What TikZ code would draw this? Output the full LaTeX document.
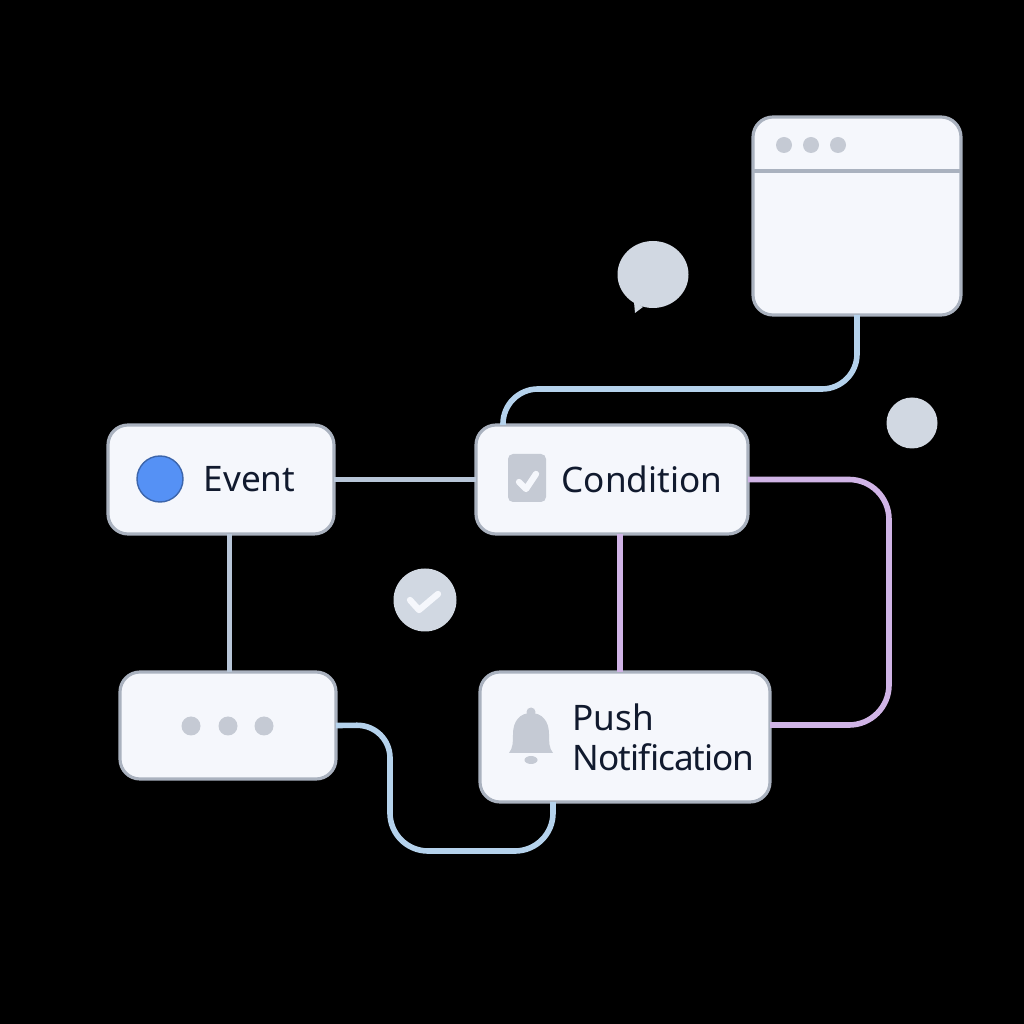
\documentclass[tikz,border=0pt]{standalone}
\usepackage{fontspec}
\setmainfont{Noto Sans}
\usetikzlibrary{shapes.geometric}
\definecolor{cardfill}{HTML}{F5F7FC}
\definecolor{cardline}{HTML}{AAB2BF}
\definecolor{iconfill}{HTML}{C5CAD4}
\definecolor{softfill}{HTML}{D1D8E2}
\definecolor{labelink}{HTML}{111A2E}
\definecolor{linkgrey}{HTML}{B8C6D8}
\definecolor{linkblue}{HTML}{B5D2EC}
\definecolor{linkpurple}{HTML}{D0B4E6}
\definecolor{eventblue}{HTML}{5591F5}
\tikzset{
	card/.style={draw=cardline, fill=cardfill, line width=0.9pt, rounded corners=0.2cm, outer sep=0pt},
	cardlabel/.style={text=labelink, inner sep=0pt, anchor=base west, font=\fontsize{10}{11.4}\selectfont},
	icondot/.style={circle, fill=iconfill, inner sep=0pt, minimum size=#1},
	softdot/.style={circle, fill=softfill, inner sep=0pt, minimum size=#1},
	link/.style={line width=1.6pt, draw=#1},
}
\def\tickmark(#1)(#2)(#3){\draw[cardfill, line width=1.8pt, line cap=round, line join=round] (#1) -- (#2) -- (#3);}

\begin{document}
\begin{tikzpicture}
		%%%%% START %%%%%
		\fill[black] (0, 0) rectangle (10.24, 10.24);
		
		\node[card, minimum width=2.26cm, minimum height=1.09cm] (event) at (2.21, 5.445) {};
		\node[card, minimum width=2.72cm, minimum height=1.09cm] (condition) at (6.12, 5.445) {};
		\node[card, minimum width=2.90cm, minimum height=1.30cm] (push) at (6.25, 2.87) {};
		\node[card, minimum width=2.16cm, minimum height=1.07cm] (more) at (2.28, 2.985) {};
		\node[card, minimum width=2.08cm, minimum height=1.98cm] (window) at (8.57, 8.08) {};
		
		\draw[cardline, line width=0.9pt] (window.west |- 0, 8.53) -- (window.east |- 0, 8.53);
		\node[icondot=0.16cm] (windowa) at (7.84, 8.79) {};
		\node[icondot=0.16cm] (windowb) at (8.11, 8.79) {};
		\node[icondot=0.16cm] (windowc) at (8.38, 8.79) {};
		
		\node[icondot=0.19cm] (morea) at (1.91, 2.98) {};
		\node[icondot=0.19cm] (moreb) at (2.28, 2.98) {};
		\node[icondot=0.19cm] (morec) at (2.64, 2.98) {};
		
		% the floating shapes
		\node[ellipse, fill=softfill, inner sep=0pt, minimum width=0.71cm, minimum height=0.67cm] (bubble) at (6.53, 7.495) {};
		\fill[softfill] (6.34, 7.22) -- (6.35, 7.11) -- (6.43, 7.17) -- cycle;
		\node[softdot=0.51cm] (spot) at (9.12, 6.01) {};
		\node[softdot=0.63cm] (tick) at (4.25, 4.24) {};
		\tickmark(4.10, 4.24)(4.19, 4.14)(4.38, 4.30);
		
		% icons inside the cards
		\node[circle, draw=eventblue!70!black, fill=eventblue, line width=0.4pt, inner sep=0pt, minimum size=0.46cm] (eventdot) at (1.60, 5.45) {};
		\node[rectangle, rounded corners=0.05cm, fill=iconfill, inner sep=0pt, minimum width=0.38cm, minimum height=0.48cm] (box) at (5.27, 5.46) {};
		\tickmark(5.19, 5.42)(5.26, 5.35)(5.36, 5.50);
		
		\fill[iconfill] (5.09, 2.71) .. controls (5.13, 2.76) and (5.13, 2.82) .. (5.13, 2.90) .. controls (5.13, 3.03) and (5.20, 3.11) .. (5.31, 3.11) .. controls (5.42, 3.11) and (5.49, 3.03) .. (5.49, 2.90) .. controls (5.49, 2.82) and (5.49, 2.76) .. (5.53, 2.71) -- cycle;
		\fill[iconfill] (5.31, 3.12) circle (0.045);
		\fill[iconfill] (5.31, 2.64) ellipse (0.065 and 0.04);
		
		\node[cardlabel] (eventtext) at (2.03, 5.32) {Event};
		\node[cardlabel] (conditiontext) at (5.61, 5.31) {Condition};
		\node[cardlabel, anchor=west, align=left] (pushtext) at (5.72, 2.87) {Push\\{\addfontfeatures{LetterSpace=-3}Notification}};
		
		% connectors
		\draw[link=linkgrey] (event.east) -- (condition.west);
		\draw[link=linkgrey] ([xshift=0.015cm]event.south -| more.north) -- ([xshift=0.015cm]more.north);
		\draw[link=linkpurple] ([xshift=0.08cm]condition.south) -- ([xshift=0.08cm]condition.south |- push.north);
		\draw[link=linkpurple, rounded corners=0.4cm] (condition.east) -- (8.89, 5.445) -- (8.89, 2.99) -- ([yshift=0.12cm]push.east);
		\draw[link=linkblue, rounded corners=0.35cm] (window.south) -- (8.57, 6.35) -- (5.03, 6.35) -- ([xshift=-1.09cm]condition.north);
		\draw[link=linkblue, rounded corners=0.33cm] (more.east) -- (3.90, 2.99) [rounded corners=0.38cm] -- (3.90, 1.73) -- (5.53, 1.73) -- ([xshift=-0.72cm]push.south);
		%%%%% END %%%%%
	\end{tikzpicture}
\end{document}
